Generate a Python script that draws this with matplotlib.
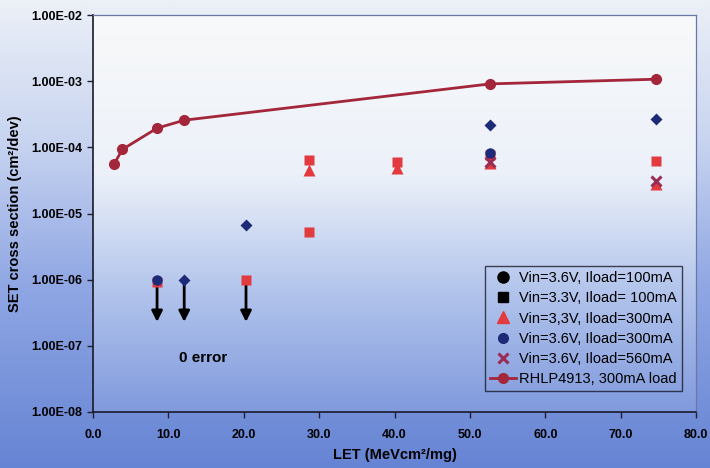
import numpy as np
import matplotlib
matplotlib.use("Agg")
import matplotlib.pyplot as plt
from matplotlib.lines import Line2D

plt.rcParams['font.family'] = ['Liberation Sans', 'DejaVu Sans']

# LET (MeVcm2/mg) and cross sections (cm2/dev)
rhlp_let = [2.8, 3.9, 8.5, 12.1, 52.7, 74.7]
rhlp_xs = [5.6e-5, 9.3e-5, 1.95e-4, 2.57e-4, 9.1e-4, 1.07e-3]

v36_100_let = [12.1, 20.3, 52.7, 74.7]
v36_100_xs = [1.0e-6, 6.6e-6, 2.2e-4, 2.7e-4]

v33_100_let = [8.5, 20.3, 28.6, 28.6, 40.3, 52.7, 74.7]
v33_100_xs = [0.93e-6, 1.0e-6, 6.4e-5, 5.2e-6, 5.9e-5, 7.6e-5, 6.2e-5]

v33_300_let = [28.6, 40.3, 52.7, 74.7]
v33_300_xs = [4.6e-5, 4.9e-5, 5.8e-5, 2.8e-5]

v36_300_let = [8.5, 52.7]
v36_300_xs = [1.0e-6, 8.1e-5]

v36_560_let = [52.7, 74.7]
v36_560_xs = [6.1e-5, 3.1e-5]

# "0 error" points: arrows pointing down from 1e-6
zero_let = [8.5, 12.1, 20.3]
zero_top = 1.0e-6
zero_tip = 2.3e-7

legend_labels = ['Vin=3.6V, Iload=100mA', 'Vin=3.3V, Iload= 100mA',
                 'Vin=3,3V, Iload=300mA', 'Vin=3.6V, Iload=300mA',
                 'Vin=3.6V, Iload=560mA', 'RHLP4913, 300mA load']

yticks = [1e-8, 1e-7, 1e-6, 1e-5, 1e-4, 1e-3, 1e-2]
xticks = [0, 10, 20, 30, 40, 50, 60, 70, 80]

navy = '#1c2a78'
red = '#e23a3f'
wine = '#a3263a'
plum = '#9b2d55'


def gradient(stops, cols, n=400):
    t = np.linspace(0, 1, n)
    cols = np.array(cols) / 255.0
    img = np.stack([np.interp(t, stops, cols[:, k]) for k in range(3)], axis=1)
    return img[:, None, :]


fig = plt.figure(figsize=(7.1, 4.68), dpi=100)

# scanned-page background
bg = fig.add_axes([0, 0, 1, 1], zorder=-10)
bg.imshow(gradient([0, 0.3, 0.6, 1.0],
                   [(236, 240, 247), (200, 212, 240), (145, 168, 228), (102, 132, 212)]),
          aspect='auto', extent=[0, 1, 0, 1])
bg.axis('off')

pos = [93 / 710, 56 / 468, 603 / 710, 397 / 468]
inner = fig.add_axes(pos, zorder=-5)
inner.imshow(gradient([0, 0.4, 0.7, 1.0],
                      [(248, 249, 250), (236, 241, 249), (178, 196, 236), (128, 154, 221)]),
             aspect='auto', extent=[0, 1, 0, 1])
inner.axis('off')

ax = fig.add_axes(pos)
ax.set_facecolor('none')
ax.set_yscale('log')
ax.set_xlim(0, 80)
ax.set_ylim(1e-8, 1e-2)

for x in zero_let:
    ax.annotate('', xy=(x, zero_tip), xytext=(x, zero_top),
                arrowprops=dict(arrowstyle='-|>', color='black', lw=2,
                                mutation_scale=16, shrinkA=0, shrinkB=0), zorder=2)

ax.plot(v33_100_let, v33_100_xs, 's', color=red, ms=7, mec='none', zorder=3)
ax.plot(v33_300_let, v33_300_xs, '^', color=red, ms=8, mec='none', zorder=3)
ax.plot(v36_560_let, v36_560_xs, 'x', color=plum, ms=7, mew=2.2, zorder=4)
ax.plot(v36_300_let, v36_300_xs, 'o', color=navy, ms=7.5, mec='none', zorder=5)
ax.plot(v36_100_let, v36_100_xs, 'D', color=navy, ms=6.5, mec='none', zorder=5)
ax.plot(rhlp_let, rhlp_xs, '-o', color=wine, lw=2, ms=7, zorder=6)

ax.text(14.6, 6.6e-8, '0 error', fontsize=11, fontweight='bold', ha='center', va='center')

ax.set_yticks(yticks)
ax.set_yticklabels([f'{v:.2E}' for v in yticks])
ax.yaxis.set_minor_locator(matplotlib.ticker.NullLocator())
ax.set_xticks(xticks)
ax.set_xticklabels([f'{v:.1f}' for v in xticks])
ax.tick_params(axis='both', labelsize=9, length=4, width=1, direction='out', color='#202030')
for lab in ax.get_xticklabels() + ax.get_yticklabels():
    lab.set_fontweight('bold')
ax.tick_params(axis='x', pad=8)

for s in ['left', 'bottom']:
    ax.spines[s].set_color('#1a1a2a')
    ax.spines[s].set_linewidth(1.2)
for s in ['top', 'right']:
    ax.spines[s].set_color('#6a78a8')
    ax.spines[s].set_linewidth(0.9)

ax.set_xlabel('LET (MeVcm²/mg)', fontsize=10.5, fontweight='bold', labelpad=5)
ax.set_ylabel('SET cross section (cm²/dev)', fontsize=10.5, fontweight='bold', labelpad=7)

handles = [
    Line2D([], [], ls='none', marker='o', color='black', ms=8),
    Line2D([], [], ls='none', marker='s', color='black', ms=7),
    Line2D([], [], ls='none', marker='^', color=red, ms=8),
    Line2D([], [], ls='none', marker='o', color=navy, ms=7),
    Line2D([], [], ls='none', marker='x', color=plum, ms=7, mew=2.2),
    Line2D([], [], ls='-', marker='o', color=wine, lw=2, ms=7),
]
leg = fig.legend(handles, legend_labels, loc='lower right',
                 bbox_to_anchor=(682 / 710, 77 / 468), fontsize=10.5,
                 frameon=True, fancybox=False, borderaxespad=0, borderpad=0.35,
                 labelspacing=0.42, handlelength=1.8, handletextpad=0.2)
leg.get_frame().set_edgecolor('#1a1a2a')
leg.get_frame().set_linewidth(1.0)
leg.get_frame().set_facecolor('none')

fig.savefig('out.png', dpi=100)
